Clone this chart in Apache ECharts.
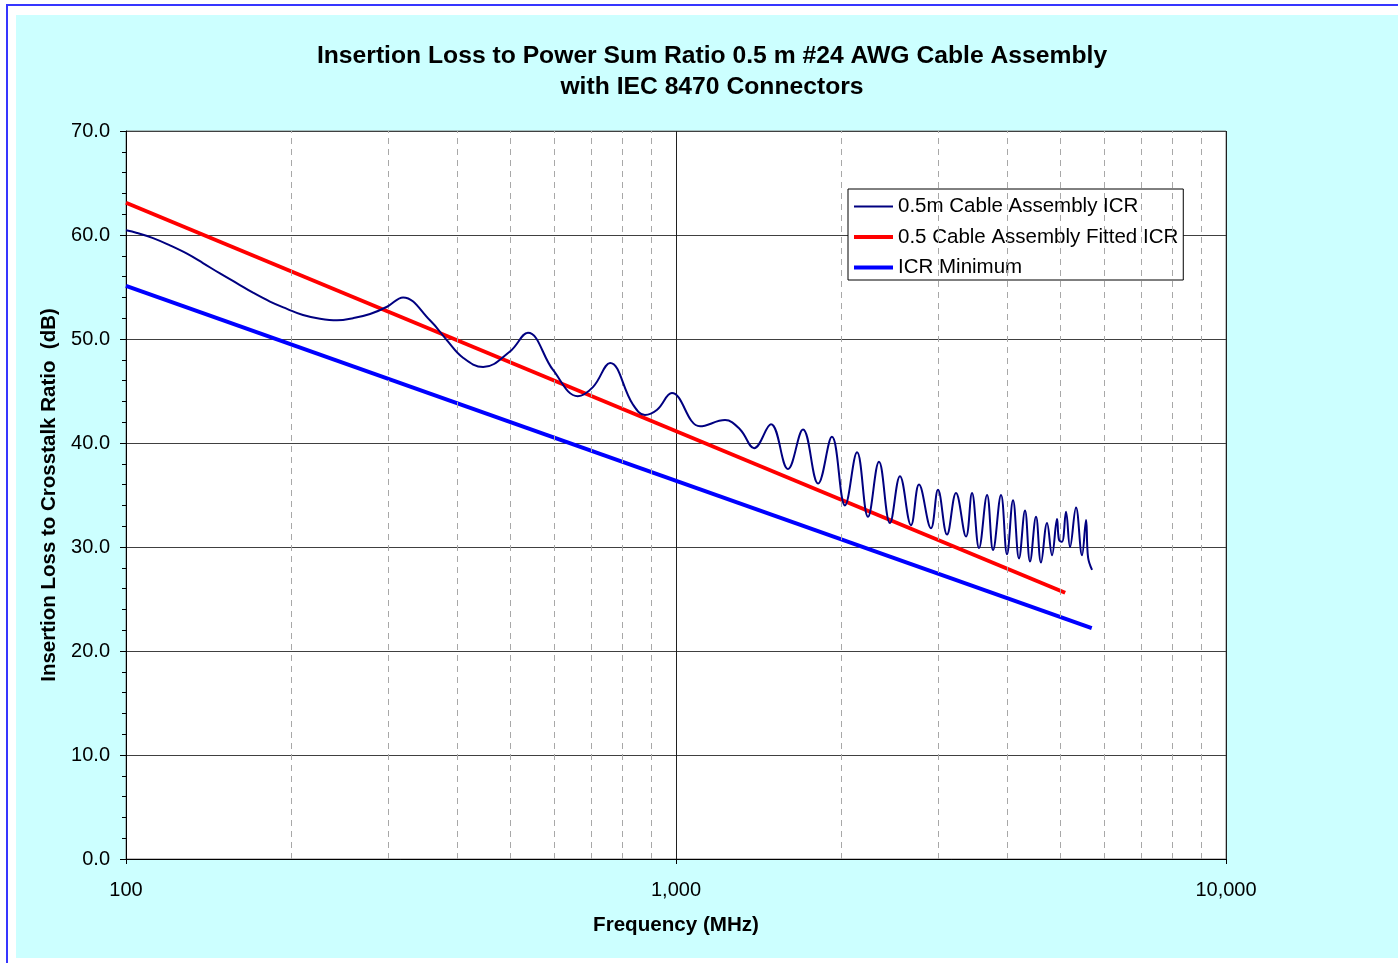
<!DOCTYPE html>
<html>
<head>
<meta charset="utf-8">
<script src="https://cdn.jsdelivr.net/npm/echarts@6/dist/echarts.min.js"></script>
<style>
html,body{margin:0;padding:0;background:#fff;}
#chart{width:1398px;height:963px;}
</style>
</head>
<body>
<div id="chart"></div>
<script>
// ---- data (frequency in MHz, value in dB) ----
const icrFreq = [100,104.7,112,120.2,129.1,138,148.2,159.2,170.2,182.7,196.2,209.8,225.3,241.9,258.7,277.8,298.3,319,357,383,410,446,499,538,598,663,707,759,835,878,924,983,1106,1228,1308,1387,1488,1598,1702,1813,1921,2029,2134,2234,2339,2449,2554,2675,2766,2908,2995,3110,3229,3368,3453,3556,3678,3771,3899,3998,4100,4204,4311,4402,4514,4609,4727,4827,4929,4970,5033,5118,5205,5337,5473,5566,5613,5708];
const icrVal  = [60.45,60.2,59.7,59.0,58.2,57.3,56.3,55.35,54.45,53.6,52.9,52.3,51.95,51.8,52.0,52.4,53.1,54.0,51.8,49.9,48.2,47.3,48.8,50.6,47.0,44.5,45.4,47.7,43.7,42.7,43.2,44.8,41.6,42.2,41.3,39.5,41.8,37.5,41.3,36.1,40.6,34.0,39.1,32.9,38.2,32.3,36.8,32.1,36.0,31.8,35.5,31.2,35.2,31.0,35.2,29.9,35.0,29.7,35.0,29.3,34.5,28.9,33.5,28.6,32.9,28.5,32.3,29.2,32.7,30.7,30.5,33.4,30.0,33.8,29.2,32.6,29.0,27.8];
const fittedFreq = [100, 5100];
const fittedVal  = [63.1, 25.6];
const minFreq = [100, 5700];
const minVal  = [55.1, 22.2];
const minorGridFreq = [200,300,400,500,600,700,800,900,2000,3000,4000,5000,6000,7000,8000,9000];
const seriesNames = ['0.5m Cable Assembly ICR','0.5 Cable Assembly Fitted ICR','ICR Minimum'];
const titleText = 'Insertion Loss to Power Sum Ratio 0.5 m #24 AWG Cable Assembly\nwith IEC 8470 Connectors';
const xName = 'Frequency (MHz)';
const yName = 'Insertion Loss to Crosstalk Ratio  (dB)';

const zip = (a, b) => a.map((v, i) => [v, b[i]]);
const FONT = 'Liberation Sans, Arial, sans-serif';
const colors = ['#000080', '#ff0000', '#0000ff'];
const widths = [2, 4, 4];

const chart = echarts.init(document.getElementById('chart'), null, {renderer: 'canvas'});
chart.setOption({
  animation: false,
  backgroundColor: '#ffffff',
  graphic: [
    {type: 'rect', z: -10, silent: true, shape: {x: 7, y: 5, width: 1400, height: 1000},
     style: {fill: '#ffffff', stroke: '#3636ff', lineWidth: 2}},
    {type: 'rect', z: -9, silent: true, shape: {x: 16, y: 15, width: 1390, height: 943},
     style: {fill: '#ccffff'}},
    {type: 'text', z: 10, silent: true, x: 712, y: 72,
     style: {text: titleText, fill: '#000', font: 'bold 24.7px ' + FONT, align: 'center', verticalAlign: 'middle', lineHeight: 31}}
  ],
  grid: {left: 126, top: 131, right: 172, bottom: 104, show: true, backgroundColor: '#ffffff', borderColor: '#808080', borderWidth: 1},
  legend: {
    orient: 'vertical', left: 848, top: 189,
    data: seriesNames.map((n, i) => ({name: n, lineStyle: {color: colors[i], width: widths[i]}})),
    backgroundColor: '#ffffff', borderColor: '#000000', borderWidth: 1, borderRadius: 0,
    padding: [7, 5, 2, 4], itemWidth: 39, itemHeight: 20, itemGap: 9.5,
    itemStyle: {opacity: 0, borderWidth: 0},
    textStyle: {fontFamily: FONT, fontSize: 20.5, color: '#000'}
  },
  xAxis: {
    type: 'log', logBase: 10, min: 100, max: 10000,
    name: xName, nameLocation: 'middle', nameGap: 56,
    nameTextStyle: {fontFamily: FONT, fontSize: 20.6, fontWeight: 'bold', color: '#000'},
    axisLine: {show: true, onZero: false, lineStyle: {color: '#000', width: 1}},
    axisTick: {show: true, length: 5, lineStyle: {color: '#000'}},
    axisLabel: {margin: 21, fontFamily: FONT, fontSize: 20, color: '#000',
      formatter: v => Math.round(v).toString().replace(/\B(?=(\d{3})+(?!\d))/g, ',')},
    splitLine: {show: true, lineStyle: {color: '#202020', width: 1}}
  },
  yAxis: {
    type: 'value', min: 0, max: 70, interval: 10,
    name: yName, nameLocation: 'middle', nameGap: 66, nameRotate: 90,
    nameTextStyle: {fontFamily: FONT, fontSize: 20.5, fontWeight: 'bold', color: '#000'},
    axisLine: {show: true, lineStyle: {color: '#000', width: 1}},
    axisTick: {show: true, length: 6, lineStyle: {color: '#000'}},
    minorTick: {show: true, splitNumber: 5, length: 4, lineStyle: {color: '#000'}},
    axisLabel: {margin: 16, fontFamily: FONT, fontSize: 20, color: '#000', formatter: v => v.toFixed(1)},
    splitLine: {show: true, lineStyle: {color: '#404040', width: 1}}
  },
  series: [
    {
      name: 'minorGrid', type: 'line', data: [], z: 1, silent: true,
      markLine: {
        silent: true, symbol: ['none', 'none'], animation: false,
        label: {show: false},
        lineStyle: {color: '#a8a8a8', width: 1, type: [6, 5]},
        data: minorGridFreq.map(f => ({xAxis: f}))
      }
    },
    {
      name: seriesNames[0], type: 'line', data: zip(icrFreq, icrVal), z: 5,
      showSymbol: false, symbol: 'none', smooth: 0.4,
      lineStyle: {color: colors[0], width: widths[0]}, itemStyle: {color: colors[0]}
    },
    {
      name: seriesNames[1], type: 'line', data: zip(fittedFreq, fittedVal), z: 4,
      showSymbol: false, symbol: 'none',
      lineStyle: {color: colors[1], width: widths[1]}, itemStyle: {color: colors[1]}
    },
    {
      name: seriesNames[2], type: 'line', data: zip(minFreq, minVal), z: 3,
      showSymbol: false, symbol: 'none',
      lineStyle: {color: colors[2], width: widths[2]}, itemStyle: {color: colors[2]}
    }
  ]
});
</script>
</body>
</html>
